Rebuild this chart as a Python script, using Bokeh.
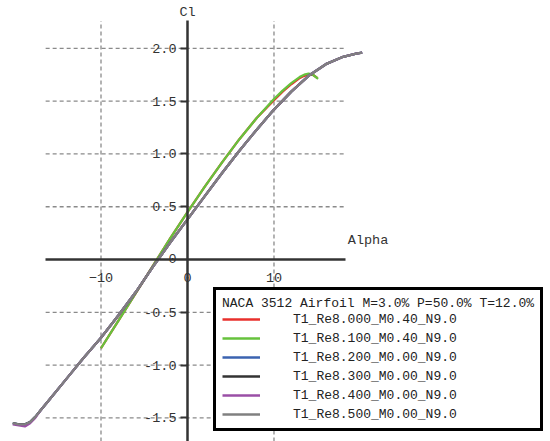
from bokeh.plotting import figure
from bokeh.models import (Range1d, LinearAxis, FixedTicker, Legend, LegendItem, Label,
                          CustomJSTickFormatter, AllLabels)
from bokeh.core.properties import value
from bokeh.embed import file_html
from bokeh.resources import INLINE

# ---- data ----
TITLE = "NACA 3512 Airfoil M=3.0% P=50.0% T=12.0%"
NAMES = ["T1_Re8.000_M0.40_N9.0", "T1_Re8.100_M0.40_N9.0", "T1_Re8.200_M0.00_N9.0",
         "T1_Re8.300_M0.00_N9.0", "T1_Re8.400_M0.00_N9.0", "T1_Re8.500_M0.00_N9.0"]
COLORS = ["#e8302c", "#66c23c", "#3b63b0", "#333333", "#9a4fa6", "#808080"]

red_alpha = [-10, -8, -6, -4, -2, 0, 2, 4, 6, 8, 10, 11, 12, 13, 13.5, 14, 14.5, 15.0]
red_cl = [-0.84, -0.58, -0.32, -0.06, 0.20, 0.45, 0.69, 0.92, 1.14, 1.34, 1.51, 1.59, 1.66, 1.72, 1.74, 1.75, 1.75, 1.72]

green_alpha = [-10, -8, -6, -4, -2, 0, 2, 4, 6, 8, 10, 11, 12, 13, 13.5, 14, 14.5, 15.1]
green_cl = [-0.84, -0.58, -0.32, -0.06, 0.20, 0.45, 0.69, 0.92, 1.14, 1.34, 1.52, 1.60, 1.67, 1.73, 1.75, 1.76, 1.75, 1.71]

low_alpha = [-20.2, -19.5, -18.8, -18.2, -17.6, -17.0, -16.0, -14, -12, -10, -8, -6, -4, -2,
             0, 2, 4, 6, 8, 10, 12, 14, 16, 18, 19.5, 20.2]
blue_cl = [-1.55, -1.56, -1.56, -1.54, -1.49, -1.43, -1.33, -1.13, -0.93, -0.74, -0.53, -0.31, -0.07, 0.16,
           0.38, 0.60, 0.82, 1.03, 1.23, 1.42, 1.59, 1.74, 1.85, 1.92, 1.95, 1.96]
black_cl = [-1.55, -1.56, -1.56, -1.54, -1.49, -1.43, -1.33, -1.13, -0.93, -0.74, -0.53, -0.31, -0.07, 0.16,
            0.38, 0.60, 0.82, 1.03, 1.23, 1.42, 1.59, 1.74, 1.85, 1.92, 1.95, 1.96]
purple_cl = [-1.56, -1.57, -1.58, -1.55, -1.50, -1.43, -1.33, -1.13, -0.93, -0.74, -0.53, -0.31, -0.07, 0.16,
             0.38, 0.60, 0.82, 1.03, 1.23, 1.42, 1.59, 1.74, 1.85, 1.92, 1.95, 1.96]
gray_cl = [-1.55, -1.56, -1.56, -1.54, -1.49, -1.43, -1.33, -1.13, -0.93, -0.74, -0.53, -0.31, -0.07, 0.16,
           0.38, 0.60, 0.82, 1.03, 1.23, 1.42, 1.59, 1.74, 1.85, 1.92, 1.95, 1.96]

X_TICKS = [-10, 0, 10]
Y_TICKS = [-1.5, -1.0, -0.5, 0.5, 1.0, 1.5, 2.0]
X_GRID = [-10, 10]
Y_GRID = [-1.5, -1.0, -0.5, 0.5, 1.0, 1.5, 2.0]
ORIGIN_X, ORIGIN_Y, ORIGIN_LABEL = [0], [0], ["0"]

# ---- layout constants ----
W, H = 550, 441
X_LO, X_HI = -21.62, 41.97
Y_LO, Y_HI = -1.723, 2.453
XAX_LO, XAX_HI = -16.4, 18.3
YAX_TOP = 2.26
MONO = "Liberation Mono"
TXT = "#333333"

p = figure(width=W, height=H, output_backend="svg", toolbar_location=None,
           x_range=Range1d(X_LO, X_HI), y_range=Range1d(Y_LO, Y_HI),
           x_axis_location=None, y_axis_location=None, min_border=0,
           outline_line_color=None)
p.grid.visible = False

# grid lines
p.segment(x0=X_GRID, x1=X_GRID, y0=[Y_LO] * len(X_GRID), y1=[YAX_TOP] * len(X_GRID),
          line_color="#8a8a8a", line_dash="4 3", line_width=1.3)
p.segment(x0=[XAX_LO] * len(Y_GRID), x1=[XAX_HI] * len(Y_GRID), y0=Y_GRID, y1=Y_GRID,
          line_color="#8a8a8a", line_dash="4 3", line_width=1.3)

fmt = CustomJSTickFormatter(code="return tick.toFixed(1);")

xaxis = LinearAxis(fixed_location=0, bounds=(XAX_LO, XAX_HI), ticker=FixedTicker(ticks=X_TICKS),
                   axis_line_width=2.5, axis_line_color="#333333",
                   major_tick_line_color=None, minor_tick_line_color=None,
                   major_label_text_font=MONO, major_label_text_font_size="13.5px",
                   major_label_text_color=TXT, major_label_standoff=7,
                   major_label_policy=AllLabels())
yaxis = LinearAxis(fixed_location=0, bounds=(Y_LO - 0.2, YAX_TOP), ticker=FixedTicker(ticks=Y_TICKS),
                   formatter=fmt,
                   axis_line_width=2.5, axis_line_color="#333333",
                   major_tick_line_color="#333333", major_tick_line_width=2,
                   major_tick_out=7, major_tick_in=0, minor_tick_line_color=None,
                   major_label_text_font=MONO, major_label_text_font_size="13.5px",
                   major_label_text_color=TXT, major_label_standoff=4,
                   major_label_policy=AllLabels())
p.add_layout(xaxis, "below")
p.add_layout(yaxis, "left")

series = [(red_alpha, red_cl), (green_alpha, green_cl), (low_alpha, blue_cl),
          (low_alpha, black_cl), (low_alpha, purple_cl), (low_alpha, gray_cl)]
items = []
for (xs, ys), name, col in zip(series, NAMES, COLORS):
    r = p.line(xs, ys, line_color=col, line_width=2.3)
    items.append(LegendItem(label=name, renderers=[r]))

# y-axis label of the origin (drawn as a text glyph)
p.text(x=ORIGIN_X, y=ORIGIN_Y, text=ORIGIN_LABEL, text_align="right", text_baseline="middle",
       x_offset=-11, y_offset=-1, text_font=value(MONO), text_font_size="13.5px", text_color=TXT)

p.add_layout(Label(x=0, y=YAX_TOP, text="Cl", text_align="center", text_baseline="bottom",
                   y_offset=1, text_font=MONO, text_font_size="13.5px", text_color=TXT))
p.add_layout(Label(x=XAX_HI, y=0, text="Alpha", text_align="left", text_baseline="middle",
                   x_offset=2, y_offset=19, text_font=MONO, text_font_size="13.5px", text_color=TXT))

legend = Legend(items=items, location=(213, 10), title=TITLE,
                title_text_font=MONO, title_text_font_size="13px", title_text_font_style="normal",
                title_text_color="#222222", title_standoff=0,
                label_text_font=MONO, label_text_font_size="13px", label_text_color="#222222",
                border_line_color="black", border_line_width=3, border_line_alpha=1,
                background_fill_color="white",
                background_fill_alpha=1, glyph_width=38, glyph_height=16, label_height=16,
                spacing=3, padding=6, margin=0, label_standoff=33)
p.add_layout(legend)

open("out.html", "w").write(file_html(p, INLINE))
